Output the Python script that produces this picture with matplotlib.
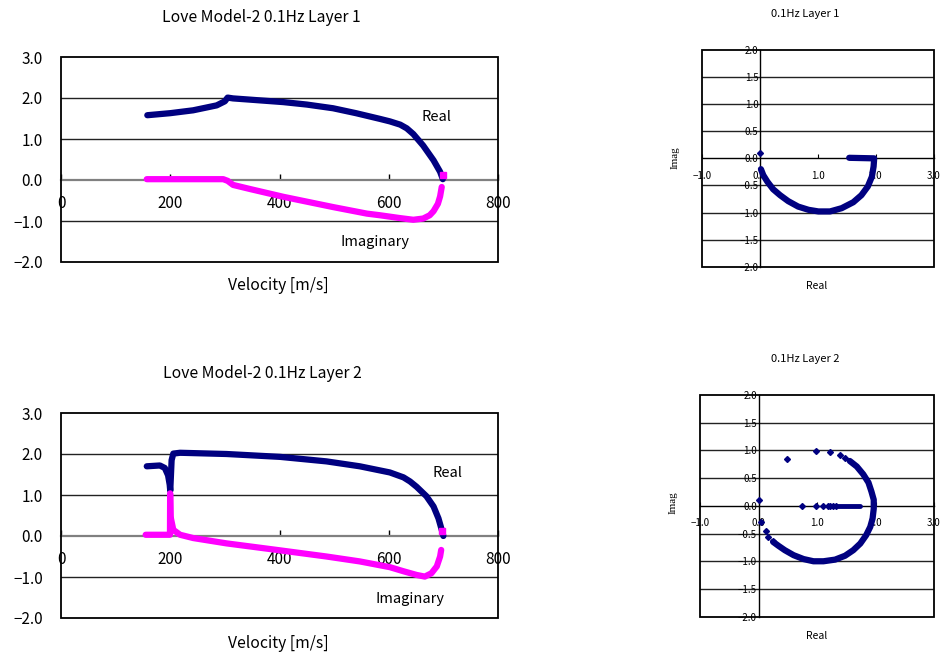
import matplotlib
matplotlib.use("Agg")
import matplotlib.pyplot as plt
from matplotlib.patches import Rectangle

plt.rcParams['font.family'] = ['Noto Sans CJK JP', 'DejaVu Sans']

NAVY = '#000080'
PINK = '#FF00FF'

# Layer 1 (velocity vs real / imaginary part)
vel1 = [158, 200, 242, 285, 300, 305, 315, 346, 407, 450, 498, 540, 584, 602, 621, 633, 645, 663, 682, 694, 699]
real1 = [1.58, 1.63, 1.70, 1.82, 1.92, 2.01, 1.99, 1.96, 1.90, 1.84, 1.75, 1.63, 1.49, 1.43, 1.35, 1.26, 1.12, 0.84, 0.48, 0.20, 0.02]
vel1_im = [157, 297, 305, 315, 346, 407, 498, 560, 584, 621, 645, 663, 675, 682, 690, 694, 697]
imag1 = [0.02, 0.02, -0.02, -0.12, -0.22, -0.41, -0.66, -0.82, -0.86, -0.93, -0.97, -0.94, -0.86, -0.76, -0.58, -0.40, -0.17]
end1_vel, end1_imag = [699], [0.11]

# Layer 2
vel2 = [157, 181, 190, 196, 199, 200, 201, 202.5, 205.6, 218, 303, 401, 486, 547, 602, 627, 639, 651, 669, 682, 691, 697, 700]
real2 = [1.70, 1.72, 1.66, 1.48, 1.25, 1.10, 1.40, 1.85, 2.01, 2.03, 2.00, 1.93, 1.82, 1.70, 1.55, 1.43, 1.33, 1.20, 0.97, 0.72, 0.43, 0.15, 0.0]
vel2_im = [155, 199.5, 199.8, 200.6, 205.6, 218, 242, 303, 401, 486, 547, 602, 627, 651, 666, 678, 688, 694, 696]
imag2 = [0.03, 0.03, 1.04, 0.47, 0.15, 0.03, -0.05, -0.18, -0.35, -0.50, -0.62, -0.76, -0.86, -0.95, -0.99, -0.91, -0.74, -0.50, -0.34]
end2_vel, end2_imag = [698], [0.13]

# Complex plane, layer 1
c1_re = [1.54, 1.97, 1.96, 1.93, 1.86, 1.75, 1.61, 1.41, 1.21, 1.01, 0.84, 0.66, 0.49, 0.35, 0.23, 0.13, 0.06, 0.02]
c1_im = [0.01, 0.0, -0.15, -0.34, -0.52, -0.68, -0.81, -0.92, -0.98, -0.98, -0.95, -0.89, -0.79, -0.68, -0.57, -0.43, -0.31, -0.20]
c1_pts_re = [0.01]
c1_pts_im = [0.09]

# Complex plane, layer 2
c2_arc_re = [1.56, 1.68, 1.79, 1.88, 1.93, 1.97, 1.97, 1.95, 1.91, 1.84, 1.74, 1.62, 1.48, 1.31, 1.11, 0.94, 0.77, 0.60, 0.45, 0.34, 0.25]
c2_arc_im = [0.81, 0.71, 0.57, 0.42, 0.26, 0.11, -0.05, -0.23, -0.38, -0.53, -0.68, -0.80, -0.90, -0.97, -1.0, -1.0, -0.96, -0.89, -0.80, -0.72, -0.65]
c2_line_re = [1.36, 1.73]
c2_line_im = [0.0, 0.0]
c2_pts_re = [0.48, 0.98, 1.22, 1.39, 1.48, 0.74, 0.98, 1.11, 1.18, 1.23, 1.28, 1.32, 0.0, 0.04, 0.12, 0.17, 0.24]
c2_pts_im = [0.84, 0.99, 0.97, 0.91, 0.86, 0.0, 0.0, 0.0, 0.0, 0.0, 0.0, 0.0, 0.11, -0.29, -0.45, -0.56, -0.63]

W, H = 940, 657
fig = plt.figure(figsize=(9.4, 6.57), dpi=100)


def box(x0, y0, x1, y1):
    return [x0 / W, 1 - y1 / H, (x1 - x0) / W, (y1 - y0) / H]


def ftext(x, y, s, **kw):
    fig.text(x / W, 1 - y / H, s, ha='center', va='center', **kw)


def fmt(v):
    return ('%.1f' % v).replace('-', '\u2212')


def frame(ax):
    ax.add_patch(Rectangle((0, 0), 1, 1, transform=ax.transAxes, fill=False,
                           lw=1.3, edgecolor='black', clip_on=False, zorder=5))


def velocity_axes(ax):
    ax.set_xlim(0, 800)
    ax.set_ylim(-2, 3)
    for s in ['top', 'right', 'left']:
        ax.spines[s].set_visible(False)
    ax.spines['bottom'].set_position(('data', 0))
    ax.spines['bottom'].set_color('#808080')
    ax.spines['bottom'].set_linewidth(1.6)
    ax.set_xticks([0, 200, 400, 600, 800])
    yt = [-2, -1, 0, 1, 2, 3]
    ax.set_yticks(yt)
    ax.set_yticklabels([fmt(v) for v in yt])
    ax.tick_params(axis='x', direction='in', length=4, width=1, color='black', pad=11, labelsize=11)
    ax.tick_params(axis='y', length=0, pad=13, labelsize=11)
    for v in [-1, 1, 2]:
        ax.axhline(v, color='#222222', lw=1.0, zorder=1)
    frame(ax)


def complex_axes(ax):
    ax.set_xlim(-1, 3)
    ax.set_ylim(-2, 2)
    for s in ['top', 'right']:
        ax.spines[s].set_visible(False)
    ax.spines['bottom'].set_position(('data', 0))
    ax.spines['left'].set_position(('data', 0))
    ax.spines['bottom'].set_linewidth(1.0)
    ax.spines['left'].set_linewidth(1.0)
    xt = [-1, 0, 1, 2, 3]
    ax.set_xticks(xt)
    ax.set_xticklabels([fmt(v) for v in xt])
    yt = [-2, -1.5, -1, -0.5, 0, 0.5, 1, 1.5, 2]
    ax.set_yticks(yt)
    ax.set_yticklabels([fmt(v) for v in yt])
    ax.tick_params(axis='x', direction='in', length=3, pad=9, labelsize=7)
    ax.tick_params(axis='y', length=0, pad=1, labelsize=7)
    for v in [-1.5, -1, -0.5, 0.5, 1, 1.5]:
        ax.axhline(v, color='#222222', lw=1.0, zorder=1)
    frame(ax)


# top-left
ax1 = fig.add_axes(box(61, 57, 498, 262))
velocity_axes(ax1)
ax1.plot(vel1, real1, color=NAVY, lw=4.5, solid_capstyle='round', solid_joinstyle='round', zorder=3)
ax1.plot(vel1_im, imag1, color=PINK, lw=4.5, solid_capstyle='round', solid_joinstyle='round', zorder=3)
ax1.plot(end1_vel, end1_imag, 's', color=PINK, ms=4, zorder=4)
ax1.text(688, 1.54, 'Real', ha='center', va='center', fontsize=10.5)
ax1.text(575, -1.51, 'Imaginary', ha='center', va='center', fontsize=10.5)

# bottom-left
ax2 = fig.add_axes(box(61, 413, 498, 618))
velocity_axes(ax2)
ax2.plot(vel2, real2, color=NAVY, lw=4.5, solid_capstyle='round', solid_joinstyle='round', zorder=3)
ax2.plot(vel2_im, imag2, color=PINK, lw=4.5, solid_capstyle='round', solid_joinstyle='round', zorder=3)
ax2.plot(end2_vel, end2_imag, 's', color=PINK, ms=4, zorder=4)
ax2.text(707, 1.54, 'Real', ha='center', va='center', fontsize=10.5)
ax2.text(639, -1.53, 'Imaginary', ha='center', va='center', fontsize=10.5)

# top-right
ax3 = fig.add_axes(box(701.7, 50, 934, 266.7))
complex_axes(ax3)
ax3.plot(c1_re, c1_im, color=NAVY, lw=4.5, solid_capstyle='round', solid_joinstyle='round', zorder=3)
ax3.plot(c1_pts_re, c1_pts_im, 'D', color=NAVY, ms=3, zorder=4)

# bottom-right
ax4 = fig.add_axes(box(700, 395, 934, 616.7))
complex_axes(ax4)
ax4.plot(c2_arc_re, c2_arc_im, color=NAVY, lw=4.5, solid_capstyle='round', solid_joinstyle='round', zorder=3)
ax4.plot(c2_line_re, c2_line_im, color=NAVY, lw=3.5, solid_capstyle='round', zorder=3)
ax4.plot(c2_pts_re, c2_pts_im, 'D', color=NAVY, ms=3, lw=0, zorder=4)

ftext(261, 17, 'Love Model-2 0.1Hz Layer 1', fontsize=11.3)
ftext(278, 286, 'Velocity [m/s]', fontsize=11.3)
ftext(262, 374, 'Love Model-2 0.1Hz Layer 2', fontsize=11.3)
ftext(278, 643, 'Velocity [m/s]', fontsize=11.3)
ftext(805, 14, '0.1Hz Layer 1', fontsize=8)
ftext(805, 359, '0.1Hz Layer 2', fontsize=8)
ftext(817, 286, 'Real', fontsize=7.5)
ftext(817, 636, 'Real', fontsize=7.5)
ftext(675, 158, 'Imag', fontsize=8, rotation=90, family='Liberation Serif')
ftext(673, 503, 'Imag', fontsize=8, rotation=90, family='Liberation Serif')

fig.savefig('out.png', dpi=100)
